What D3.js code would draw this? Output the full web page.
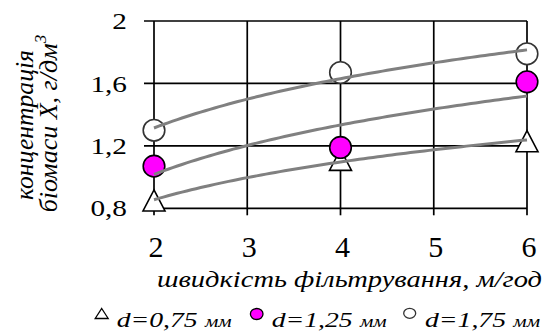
<!DOCTYPE html>
<html><head><meta charset="utf-8">
<script src="https://cdn.jsdelivr.net/npm/d3@7"></script>
<style>body{margin:0;background:#fff}svg{display:block}svg text{font-family:"Liberation Serif","Times New Roman",serif;fill:#000}</style>
</head><body><svg id="c" width="547" height="334"></svg>
<script>
const xValues = [2, 4, 6];
const xTicks = [2, 3, 4, 5, 6];
const yTicks = [0.8, 1.2, 1.6, 2];
const yTickLabels = ["0,8", "1,2", "1,6", "2"];
const seriesNames = ["d=0,75", "d=1,25", "d=1,75"];
const unitLabel = "мм";
const s075 = [0.85, 1.11, 1.23];
const s125 = [1.07, 1.19, 1.61];
const s175 = [1.30, 1.67, 1.79];
const xTitle = "швидкість фільтрування, м/год";
const yTitle1 = "концентрація";
const yTitle2 = "біомаси X, г/дм";

const svg = d3.select("#c");
const x = d3.scaleLinear().domain([2, 6]).range([154, 527]);
const y = d3.scaleLinear().domain([0.8, 2]).range([208.3, 21]);

// grid
const g = svg.append("g").attr("stroke", "#000").attr("stroke-width", 1.7);
yTicks.forEach(v => g.append("line").attr("x1", 144).attr("x2", x(6)).attr("y1", y(v)).attr("y2", y(v)));
xTicks.forEach(v => g.append("line").attr("x1", x(v)).attr("x2", x(v)).attr("y1", y(2)).attr("y2", y(0.8) + 7));

// y tick labels
yTicks.forEach((v, i) => svg.append("text")
  .attr("transform", `translate(127,${y(v)}) scale(1.22,1)`)
  .attr("text-anchor", "end").attr("dy", "0.34em").attr("font-size", 24).text(yTickLabels[i]));
// x tick labels
xTicks.forEach(v => svg.append("text").attr("x", x(v) + 2).attr("y", 256.5)
  .attr("text-anchor", "middle").attr("font-size", 30).text(v));

// titles
svg.append("text").attr("x", 157).attr("y", 287).attr("font-size", 23).attr("font-style", "italic")
  .attr("textLength", 385).attr("lengthAdjust", "spacingAndGlyphs").text(xTitle);
svg.append("text").attr("transform", "translate(33,125) rotate(-90)").attr("text-anchor", "middle")
  .attr("font-size", 26).attr("font-style", "italic").attr("textLength", 150).attr("lengthAdjust", "spacingAndGlyphs").text(yTitle1);
const t2 = svg.append("text").attr("transform", "translate(57,123.5) rotate(-90)").attr("text-anchor", "middle")
  .attr("font-size", 26).attr("font-style", "italic");
t2.append("tspan").text(yTitle2);
t2.append("tspan").attr("font-size", 17).attr("dy", -11).text("3");

// custom triangle symbol: width w, height h
const triType = (w, h) => ({ draw(ctx) { ctx.moveTo(0, -h / 2); ctx.lineTo(w / 2, h / 2); ctx.lineTo(-w / 2, h / 2); ctx.closePath(); } });

// markers
const data = [s075, s125, s175];
const tri = d3.symbol().type(triType(22, 21));
const mk = svg.append("g");
s075.forEach((v, i) => mk.append("path").attr("d", tri()).attr("transform", `translate(${x(xValues[i])},${y(v)})`)
  .attr("fill", "#fff").attr("stroke", "#000").attr("stroke-width", 1.6).attr("stroke-linejoin", "miter"));
s125.forEach((v, i) => mk.append("circle").attr("cx", x(xValues[i])).attr("cy", y(v)).attr("r", 10.8)
  .attr("fill", "#ff00ff").attr("stroke", "#000").attr("stroke-width", 1.6));
s175.forEach((v, i) => mk.append("circle").attr("cx", x(xValues[i])).attr("cy", y(v)).attr("r", 10.8)
  .attr("fill", "#fff").attr("stroke", "#333").attr("stroke-width", 1.6));

// logarithmic trend lines (least squares on the series)
function logFit(ys) {
  const lx = xValues.map(Math.log);
  const mx = d3.mean(lx), my = d3.mean(ys);
  const b = d3.sum(lx, (l, i) => (l - mx) * (ys[i] - my)) / d3.sum(lx, l => (l - mx) ** 2);
  return t => my + b * (Math.log(t) - mx);
}
const line = d3.line().x(d => x(d[0])).y(d => y(d[1]));
const samples = d3.range(2, 6.0001, 0.05);
data.forEach(s => {
  const f = logFit(s);
  svg.append("path").attr("d", line(samples.map(t => [t, f(t)])))
    .attr("fill", "none").attr("stroke", "#808080").attr("stroke-width", 3);
});

// legend
const lg = svg.append("g");
lg.append("path").attr("d", d3.symbol().type(triType(13, 10))()).attr("transform", "translate(101.7,313.5)")
  .attr("fill", "#fff").attr("stroke", "#000").attr("stroke-width", 1.3);
lg.append("ellipse").attr("cx", 256.7).attr("cy", 314).attr("rx", 6.3).attr("ry", 5.5)
  .attr("fill", "#ff00ff").attr("stroke", "#000").attr("stroke-width", 1.3);
lg.append("ellipse").attr("cx", 409.7).attr("cy", 313.3).attr("rx", 6).attr("ry", 5)
  .attr("fill", "#fff").attr("stroke", "#333").attr("stroke-width", 1.3);
const lx0 = [116.7, 271.7, 425];
seriesNames.forEach((n, i) => {
  lg.append("text").attr("x", lx0[i]).attr("y", 326.7).attr("font-size", 20).attr("font-style", "italic")
    .attr("textLength", 81).attr("lengthAdjust", "spacingAndGlyphs").text(n);
  lg.append("text").attr("x", lx0[i] + 88.3).attr("y", 326.7).attr("font-size", 17).attr("font-style", "italic")
    .attr("textLength", 26.7).attr("lengthAdjust", "spacingAndGlyphs").text(unitLabel);
});
</script></body></html>
